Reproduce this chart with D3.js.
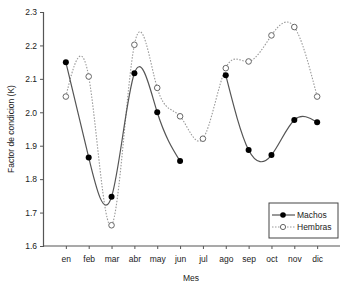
<!DOCTYPE html>
<html>
<head>
<meta charset="utf-8">
<script src="https://cdn.jsdelivr.net/npm/d3@7"></script>
<style>
  body { margin: 0; background: #fff; }
  text { font-family: "Liberation Sans", Arial, sans-serif; fill: #222; }
</style>
</head>
<body>
<div id="chart"></div>
<script>
// data
var months = ["en", "feb", "mar", "abr", "may", "jun", "jul", "ago", "sep", "oct", "nov", "dic"];
var machos = [2.15, 1.865, 1.747, 2.117, 2.0, 1.854, null, 2.111, 1.887, 1.872, 1.977, 1.97];
var hembras = [2.047, 2.107, 1.662, 2.202, 2.073, 1.988, 1.921, 2.132, 2.152, 2.23, 2.255, 2.047];
var yTicks = [1.6, 1.7, 1.8, 1.9, 2.0, 2.1, 2.2, 2.3];

var width = 355, height = 285;

var svg = d3.select("#chart").append("svg")
    .attr("width", width)
    .attr("height", height);

var x = d3.scalePoint()
    .domain(months)
    .range([43, 340])
    .padding(1);

var y = d3.scaleLinear()
    .domain([1.6, 2.3])
    .range([246, 12]);

// axes
var yAxis = svg.append("g")
    .attr("transform", "translate(43,0)")
    .call(d3.axisLeft(y).tickValues(yTicks).tickSize(3).tickFormat(d3.format(".1f")));

var xAxis = svg.append("g")
    .attr("transform", "translate(0,246)")
    .call(d3.axisBottom(x).tickSize(3).tickSizeOuter(0));

[xAxis, yAxis].forEach(function (a) {
    a.select(".domain").attr("stroke", "#555").attr("stroke-width", 1.2);
    a.selectAll(".tick line").attr("stroke", "#555");
    a.selectAll(".tick text").attr("font-size", 8.5).attr("fill", "#222")
        .style("font-family", "Liberation Sans, Arial, sans-serif");
});
xAxis.select(".domain").attr("d", "M43,0H340");
xAxis.selectAll(".tick text").attr("dy", "1.2em");

// axis titles
svg.append("text")
    .attr("transform", "translate(14,129) rotate(-90)")
    .attr("text-anchor", "middle")
    .attr("font-size", 8.5)
    .text("Factor de condicion (K)");

svg.append("text")
    .attr("x", 191)
    .attr("y", 281)
    .attr("text-anchor", "middle")
    .attr("font-size", 8.5)
    .text("Mes");

var line = d3.line()
    .defined(function (d) { return d[1] != null; })
    .x(function (d) { return x(d[0]); })
    .y(function (d) { return y(d[1]); })
    .curve(d3.curveNatural);

var hData = months.map(function (m, i) { return [m, hembras[i]]; });
var mData = months.map(function (m, i) { return [m, machos[i]]; });

// hembras: dotted curve, open markers
svg.append("path")
    .attr("d", line(hData))
    .attr("fill", "none")
    .attr("stroke", "#999")
    .attr("stroke-width", 1.1)
    .attr("stroke-dasharray", "1.5,1.5");

// machos: solid curve, filled markers
svg.append("path")
    .attr("d", line(mData))
    .attr("fill", "none")
    .attr("stroke", "#555")
    .attr("stroke-width", 1.2);

svg.selectAll(".hpt")
    .data(hData)
    .enter().append("circle")
    .attr("cx", function (d) { return x(d[0]); })
    .attr("cy", function (d) { return y(d[1]); })
    .attr("r", 2.8)
    .attr("fill", "#fff")
    .attr("stroke", "#666")
    .attr("stroke-width", 1);

svg.selectAll(".mpt")
    .data(mData.filter(function (d) { return d[1] != null; }))
    .enter().append("circle")
    .attr("cx", function (d) { return x(d[0]); })
    .attr("cy", function (d) { return y(d[1]); })
    .attr("r", 3)
    .attr("fill", "#000");

// legend
var lg = svg.append("g");
lg.append("rect")
    .attr("x", 269).attr("y", 203)
    .attr("width", 69).attr("height", 35)
    .attr("fill", "#fff")
    .attr("stroke", "#444")
    .attr("stroke-width", 1);

lg.append("line")
    .attr("x1", 272).attr("x2", 295).attr("y1", 215).attr("y2", 215)
    .attr("stroke", "#333").attr("stroke-width", 1);
lg.append("circle").attr("cx", 283).attr("cy", 215).attr("r", 2.8).attr("fill", "#000");
lg.append("text").attr("x", 297).attr("y", 218).attr("font-size", 8.5).text("Machos");

lg.append("line")
    .attr("x1", 272).attr("x2", 295).attr("y1", 227).attr("y2", 227)
    .attr("stroke", "#999").attr("stroke-width", 1).attr("stroke-dasharray", "1.5,1.5");
lg.append("circle").attr("cx", 283).attr("cy", 227).attr("r", 2.6)
    .attr("fill", "#fff").attr("stroke", "#666");
lg.append("text").attr("x", 297).attr("y", 230).attr("font-size", 8.5).text("Hembras");
</script>
</body>
</html>
